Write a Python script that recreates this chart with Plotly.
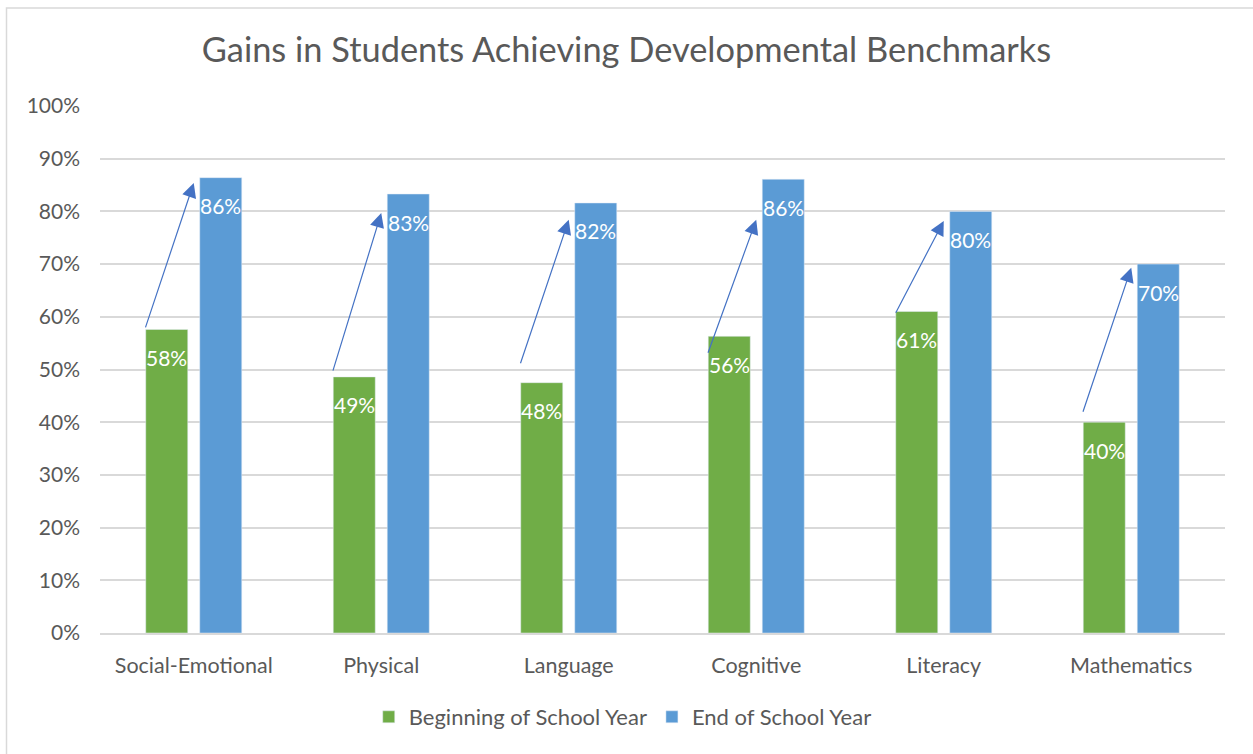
import plotly.graph_objects as go

categories = ["Social-Emotional", "Physical", "Language", "Cognitive", "Literacy", "Mathematics"]
beginning = [0.576, 0.486, 0.475, 0.563, 0.610, 0.400]
end = [0.864, 0.833, 0.816, 0.861, 0.800, 0.700]
arrow_from = [0.577, 0.495, 0.509, 0.529, 0.605, 0.417]
arrow_to = [0.854, 0.797, 0.784, 0.784, 0.782, 0.693]
y_ticks = [i / 10 for i in range(11)]
y_tick_labels = [f"{i*10}%" for i in range(11)]

GREEN = "#70AD47"
BLUE = "#5B9BD5"
GREY = "#595959"
FONT = "Lato"

BARGAP, GROUPGAP = 0.424, 0.222

fig = go.Figure()
for name, vals, col in [("Beginning of School Year", beginning, GREEN),
                        ("End of School Year", end, BLUE)]:
    fig.add_trace(go.Bar(name=name, x=categories, y=vals, marker_color=col))

# data labels just inside the top of each bar
half_slot = (1 - BARGAP) / 4
for sign, vals in [(-1, beginning), (1, end)]:
    for i, v in enumerate(vals):
        fig.add_annotation(
            x=i + sign * half_slot, y=v, xref="x", yref="y",
            text=f"{round(v * 100)}%", showarrow=False, yanchor="middle", yshift=-28,
            font=dict(color="white", size=21, family=FONT),
        )

for i, (a, b) in enumerate(zip(arrow_from, arrow_to)):
    fig.add_annotation(
        x=i, y=b, ax=i - 0.26, ay=a, xref="x", yref="y", axref="x", ayref="y",
        showarrow=True, arrowhead=2, arrowsize=2.4, arrowwidth=1.2,
        arrowcolor="#4472C4", text="",
    )

W, H = 1253, 754
L, R, T, B = 100, 28, 106, 121
pw, ph = W - L - R, H - T - B

def px(x):
    return (x - L) / pw

def py(y):
    return (H - B - y) / ph

fig.add_shape(type="rect", xref="paper", yref="paper",
              x0=px(6.5), x1=px(1270), y0=py(770), y1=py(8),
              line=dict(color="#D9D9D9", width=1.5), fillcolor="rgba(0,0,0,0)", layer="below")

fig.update_layout(
    width=W, height=H,
    margin=dict(l=L, r=R, t=T, b=B),
    paper_bgcolor="white", plot_bgcolor="white",
    title=dict(text="Gains in Students Achieving Developmental Benchmarks",
               x=0.5, xref="container", xanchor="center", y=1 - 50 / H, yanchor="middle",
               font=dict(family=FONT, size=34.4, color=GREY)),
    barmode="group", bargap=BARGAP, bargroupgap=GROUPGAP,
    font=dict(family=FONT, size=21, color=GREY),
    legend=dict(orientation="h", x=0.497, xanchor="center", xref="container",
                y=1 - 717 / H, yref="container", yanchor="middle",
                font=dict(family=FONT, size=22, color=GREY), traceorder="normal",
                itemwidth=30),
    xaxis=dict(showline=True, linecolor="#D9D9D9", linewidth=1.5, ticks="",
               ticklabelstandoff=12,
               tickfont=dict(family=FONT, size=21.5, color=GREY)),
    yaxis=dict(range=[0, 1], tickvals=y_ticks, ticktext=y_tick_labels,
               showgrid=True, gridcolor="#D9D9D9", gridwidth=1.5, zeroline=False,
               ticks="", ticklabelstandoff=19,
               tickfont=dict(family=FONT, size=21, color=GREY)),
)

fig.write_html("out.html", config={"displayModeBar": False},
               post_script="document.body.style.margin='0';")
